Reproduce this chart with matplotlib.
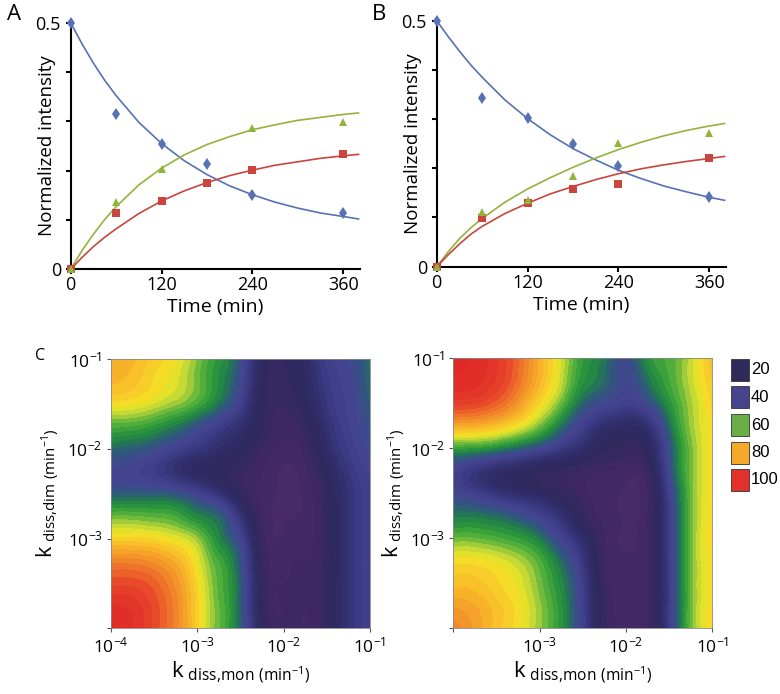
"""Kinetics fits (A, B) and fit-error maps (C) recreated with matplotlib"""
import numpy as np
import matplotlib
matplotlib.use('Agg')
import matplotlib.pyplot as plt
import matplotlib.tri as mtri
from matplotlib.colors import LinearSegmentedColormap, Normalize
from matplotlib.patches import Rectangle
from matplotlib.ticker import FixedLocator, NullLocator

plt.rcParams['font.family'] = ['Open Sans', 'DejaVu Sans']
plt.rcParams['mathtext.fontset'] = 'custom'
plt.rcParams['mathtext.rm'] = 'Open Sans'

# ---- panel A / B data -------------------------------------------------
t_pts = [0, 60, 120, 180, 240, 360]
blue_a = [0.500, 0.315, 0.255, 0.2135, 0.150, 0.1135]
green_a = [0.0, 0.136, 0.203, np.nan, 0.286, 0.298]
red_a = [0.0, 0.1135, 0.1385, 0.175, 0.202, 0.234]

blue_b = [0.500, 0.3435, 0.303, 0.249, 0.205, 0.142]
green_b = [0.0, 0.112, 0.1355, 0.184, 0.251, 0.271]
red_b = [0.0, 0.0996, 0.130, 0.157, 0.169, 0.221]

# fitted curves
t_fit = [0, 15, 30, 45, 60, 90, 120, 150, 180, 210, 240, 270, 300, 330, 360, 380]
blue_fit_a = [0.500, 0.457, 0.418, 0.383, 0.352, 0.298, 0.255, 0.220, 0.192, 0.169,
              0.151, 0.136, 0.124, 0.114, 0.107, 0.102]
green_fit_a = [0.0, 0.038, 0.071, 0.101, 0.127, 0.171, 0.205, 0.232, 0.253, 0.269,
               0.283, 0.293, 0.302, 0.308, 0.314, 0.317]
red_fit_a = [0.0, 0.024, 0.046, 0.065, 0.082, 0.113, 0.1385, 0.159, 0.176, 0.190,
             0.201, 0.211, 0.218, 0.225, 0.230, 0.233]

blue_fit_b = [0.500, 0.468, 0.438, 0.410, 0.385, 0.339, 0.301, 0.268, 0.240, 0.217,
              0.196, 0.179, 0.164, 0.152, 0.141, 0.135]
green_fit_b = [0.0, 0.030, 0.057, 0.079, 0.098, 0.131, 0.158, 0.181, 0.202, 0.221,
               0.238, 0.253, 0.266, 0.277, 0.286, 0.291]
red_fit_b = [0.0, 0.024, 0.046, 0.066, 0.082, 0.108, 0.129, 0.148, 0.163, 0.177,
             0.189, 0.199, 0.207, 0.214, 0.220, 0.224]

# ---- panel C data (error %, rows = log10 k_dim from -4 to -1) ---------
log_k = [-4.0, -3.75, -3.5, -3.25, -3.0, -2.75, -2.5, -2.25, -2.0, -1.75, -1.5, -1.25, -1.0]

err_left = [
    [103, 100, 94, 86, 73, 60, 45, 21, 15, 15, 20, 30, 37],
    [100, 99, 94, 86, 73, 60, 45, 20, 15, 15, 20, 30, 37],
    [94, 94, 91, 84, 72, 59, 45, 20, 15, 15, 20, 30, 37],
    [86, 86, 84, 79, 69, 57, 43, 19, 14, 15, 19, 30, 37],
    [73, 73, 72, 69, 63, 51, 38, 17, 13, 14, 19, 30, 37],
    [60, 60, 59, 57, 51, 46, 30, 15, 12, 13, 19, 30, 37],
    [45, 45, 45, 43, 38, 30, 20, 14, 12, 13, 20, 30, 37],
    [39, 38, 35, 29, 24, 21, 18, 15, 12, 14, 22, 32, 38],
    [47, 45, 42, 37, 32, 27, 23, 17, 14, 16, 26, 35, 41],
    [58, 57, 54, 49, 42, 35, 28, 20, 16, 19, 29, 37, 43],
    [71, 70, 67, 63, 57, 48, 36, 21, 18, 22, 32, 38, 45],
    [78, 76, 72, 68, 61, 52, 40, 22, 19, 24, 34, 39, 47],
    [80, 78, 74, 70, 62, 54, 42, 22, 20, 26, 36, 40, 48],
]

err_right = [
    [86, 82, 76, 71, 63, 53, 36, 18, 14, 15, 34, 60, 72],
    [82, 80, 76, 71, 63, 53, 36, 18, 13, 15, 34, 60, 72],
    [76, 76, 73, 69, 61, 51, 35, 17, 13, 15, 34, 60, 72],
    [71, 71, 69, 65, 58, 47, 32, 16, 13, 15, 34, 60, 72],
    [60, 60, 58, 55, 49, 38, 26, 15, 12, 15, 34, 60, 72],
    [49, 49, 47, 43, 37, 29, 19, 14, 12, 15, 35, 60, 72],
    [40, 36, 31, 27, 24, 20, 16, 13, 12, 15, 36, 60, 72],
    [38, 32, 27, 24, 21, 19, 17, 15, 14, 17, 40, 61, 72],
    [55, 54, 51, 46, 40, 33, 27, 21, 19, 22, 42, 61, 72],
    [80, 79, 76, 70, 61, 48, 36, 28, 25, 29, 47, 63, 72],
    [96, 95, 91, 83, 72, 60, 46, 40, 36, 41, 53, 64, 73],
    [102, 101, 97, 89, 78, 66, 53, 47, 40, 48, 57, 66, 75],
    [103, 102, 98, 90, 79, 67, 55, 49, 42, 53, 58, 66, 77],
]

legend_values = [20, 40, 60, 80, 100]
legend_colors = ['#2e2a5c', '#46448c', '#6aae48', '#f6a928', '#e2302a']

# colour ramp of the maps
ramp_values = [10, 16, 22, 28, 34, 40, 45, 50, 55, 60, 65, 70, 76, 82, 88, 94, 100, 106]
ramp_colors = ['#4a2a6a', '#3d2864', '#2e295d', '#322e6c', '#3c3b85', '#454592', '#2e587c',
               '#1f7f4a', '#2f9a3a', '#5cb33c', '#b4d43a', '#f4e526', '#f8c22a', '#f5a02a',
               '#f07c2a', '#e84a2a', '#e2302a', '#de2626']

BLUE = '#5672b4'
RED = '#c9453e'
GREEN = '#93b43c'

fig = plt.figure(figsize=(7.8, 6.94), dpi=100)


def kinetics_panel(rect, blue, green, red, fit_b, fit_g, fit_r):
    ax = fig.add_axes(rect)
    ax.plot(t_fit, fit_b, color=BLUE, lw=1.2)
    ax.plot(t_fit, fit_g, color=GREEN, lw=1.2)
    ax.plot(t_fit, fit_r, color=RED, lw=1.2)
    ax.plot(t_pts, blue, 'd', color=BLUE, ms=6.5, mew=0, clip_on=False, zorder=5)
    ax.plot(t_pts, red, 's', color=RED, ms=5.5, mew=0, clip_on=False, zorder=5)
    ax.plot(t_pts, green, '^', color=GREEN, ms=5.5, mew=0, clip_on=False, zorder=5)
    ax.set_xlim(0, 382)
    ax.set_ylim(0, 0.5)
    for s in ['top', 'right']:
        ax.spines[s].set_visible(False)
    for s in ['left', 'bottom']:
        ax.spines[s].set_linewidth(1.5)
    ax.xaxis.set_major_locator(FixedLocator([0, 120, 240, 360]))
    ax.yaxis.set_major_locator(FixedLocator([0, 0.1, 0.2, 0.3, 0.4, 0.5]))
    ax.set_yticklabels(['0', '', '', '', '', '0.5'])
    ax.tick_params(axis='both', labelsize=13, width=1.5, length=3.5, pad=1.5)
    ax.tick_params(axis='y', pad=3.5)
    ax.set_xlabel('Time (min)', fontsize=14, labelpad=3)
    ax.set_ylabel('Normalized intensity', fontsize=13.5)
    ax.yaxis.set_label_coords(-0.05, 0.5)
    return ax


kinetics_panel([0.0906, 0.612, 0.371, 0.3553], blue_a, green_a, red_a,
               blue_fit_a, green_fit_a, red_fit_a)
kinetics_panel([0.5599, 0.6157, 0.3709, 0.3545], blue_b, green_b, red_b,
               blue_fit_b, green_fit_b, red_fit_b)

# ---- maps --------------------------------------------------------------
cmap = LinearSegmentedColormap.from_list(
    'err', [((v - 10) / 96.0, c) for v, c in zip(ramp_values, ramp_colors)])
norm = Normalize(vmin=10, vmax=106)
levels = np.arange(7.5, 107.6, 2.5)


def tick_text(v):
    return r'$\mathregular{10^{%d}}$' % int(round(np.log10(v)))


def error_map(rect, err, xticks_lab, yticks_lab, ylab_x):
    ax = fig.add_axes(rect)
    uu, vv = np.meshgrid(log_k, log_k)
    tri = mtri.Triangulation(uu.ravel(), vv.ravel())
    tri_f, z_f = mtri.UniformTriRefiner(tri).refine_field(
        np.asarray(err, float).ravel(), subdiv=3)
    tri_k = mtri.Triangulation(10 ** tri_f.x, 10 ** tri_f.y, tri_f.triangles)
    ax.tricontourf(tri_k, z_f, levels=levels, cmap=cmap, norm=norm, extend='both',
                   antialiased=False)
    ax.set_xscale('log')
    ax.set_yscale('log')
    ax.set_xlim(1e-4, 1e-1)
    ax.set_ylim(1e-4, 1e-1)
    ticks = [1e-4, 1e-3, 1e-2, 1e-1]
    ax.xaxis.set_major_locator(FixedLocator(ticks))
    ax.yaxis.set_major_locator(FixedLocator(ticks))
    ax.xaxis.set_minor_locator(NullLocator())
    ax.yaxis.set_minor_locator(NullLocator())
    ax.set_xticklabels([tick_text(v) if v in xticks_lab else '' for v in ticks])
    ax.set_yticklabels([tick_text(v) if v in yticks_lab else '' for v in ticks])
    ax.tick_params(axis='both', labelsize=12.5, length=3, width=0.8, color='#555555',
                   pad=3)
    for s in ax.spines.values():
        s.set_linewidth(0.6)
        s.set_color('#888888')
    ax.set_xlabel(r'k$_{\mathregular{\ diss{,}mon\ (min^{-1})}}$', fontsize=16, labelpad=2)
    ax.set_ylabel(r'k$_{\mathregular{\ diss{,}dim\ (min^{-1})}}$', fontsize=15.5)
    ax.yaxis.set_label_coords(ylab_x, 0.5)
    return ax


error_map([0.1423, 0.0947, 0.332, 0.3876], err_left,
          [1e-4, 1e-3, 1e-2, 1e-1], [1e-3, 1e-2, 1e-1], -0.19)
error_map([0.5812, 0.0947, 0.332, 0.389], err_right,
          [1e-3, 1e-2, 1e-1], [1e-3, 1e-2, 1e-1], -0.175)

# legend squares
for i, (val, col) in enumerate(zip(legend_values, legend_colors)):
    y_top = 359 + i * 27.5
    fig.patches.append(Rectangle((730.5 / 780, 1 - (y_top + 22) / 694), 18.5 / 780, 22 / 694,
                                 transform=fig.transFigure, facecolor=col,
                                 edgecolor='#333333', lw=0.6))
    fig.text(751 / 780, 1 - (y_top + 11) / 694, str(val), fontsize=12,
             family='Liberation Sans', va='center', ha='left')

# panel letters
fig.text(7 / 780, 1 - 4 / 694, 'A', fontsize=16, va='top')
fig.text(372 / 780, 1 - 4 / 694, 'B', fontsize=16, va='top')
fig.text(35 / 780, 1 - 348 / 694, 'C', fontsize=11.5, va='top')

fig.savefig('out.png', dpi=100)
